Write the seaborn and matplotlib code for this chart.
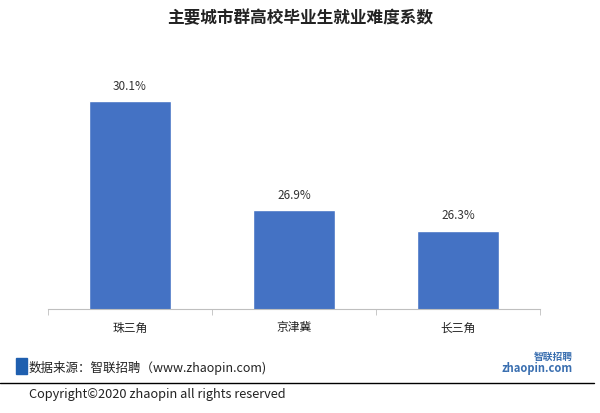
import numpy as np
import pandas as pd
import matplotlib.pyplot as plt
import seaborn as sns

cities = ["珠三角", "京津冀", "长三角"]
values = [30.1, 26.9, 26.3]
labels = ["30.1%", "26.9%", "26.3%"]

sns.set_style("white")
plt.rcParams['font.family'] = ['Noto Sans CJK SC', 'DejaVu Sans']

fig = plt.figure(figsize=(6, 4.13), dpi=100)
ax = fig.add_axes([0.08, 0.252, 0.82, 0.66])

df = pd.DataFrame({"city": cities, "value": values})
sns.barplot(data=df, x="city", y="value", color="#4472C4", saturation=1,
            width=0.5, ax=ax)

ax.set_ylim(24, 32)
ax.set_xlim(-0.5, 2.5)
for i, (v, t) in enumerate(zip(values, labels)):
    ax.text(i, v + 0.25, t, ha="center", va="bottom", fontsize=8.5, color="#333333")

ax.set_xlabel("")
ax.set_ylabel("")
ax.set_yticks([])
for s in ["top", "right", "left"]:
    ax.spines[s].set_visible(False)
ax.spines["bottom"].set_color("#bfbfbf")
ax.tick_params(axis="x", which="major", length=0, labelsize=8.5, pad=9, labelcolor="#222222")
ax.set_xticks(np.arange(-0.5, 3, 1), minor=True)
ax.tick_params(axis="x", which="minor", length=4, color="#bfbfbf", bottom=True)

fig.text(0.5, 0.955, "主要城市群高校毕业生就业难度系数", ha="center", va="center",
         fontsize=12, fontweight="bold", color="#222222")

# footer
fig.patches.append(plt.Rectangle((0.027, 0.094), 0.018, 0.04, transform=fig.transFigure,
                                 color="#1F5FAF", zorder=3))
fig.text(0.048, 0.108, "数据来源：智联招聘（www.zhaopin.com)", ha="left", va="center",
         fontsize=9, color="#222222")
fig.add_artist(plt.Line2D([0.0, 0.99], [0.073, 0.073], transform=fig.transFigure,
                          color="black", lw=1))
fig.text(0.048, 0.045, "Copyright©2020 zhaopin all rights reserved", ha="left",
         va="center", fontsize=9.2, color="#222222")
fig.text(0.955, 0.137, "智联招聘", ha="right", va="center", fontsize=7,
         color="#3A6FB0", style="italic", fontweight="bold")
fig.text(0.955, 0.107, "zhaopin.com", ha="right", va="center", fontsize=8,
         color="#3A6FB0", style="italic", fontweight="bold")

fig.savefig("out.png", dpi=100)
